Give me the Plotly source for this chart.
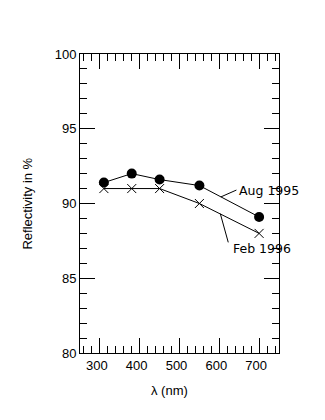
import plotly.graph_objects as go

wavelength = [310, 380, 450, 550, 700]
aug_1995 = [91.4, 92.0, 91.6, 91.2, 89.1]
feb_1996 = [91.0, 91.0, 91.0, 90.0, 88.0]

x_ticks = [300, 400, 500, 600, 700]
y_ticks = [80, 85, 90, 95, 100]

FONT = "Liberation Sans, Arial, Helvetica, sans-serif"
LABEL_FONT = "DejaVu Sans, Liberation Sans, sans-serif"

fig = go.Figure()
fig.add_trace(go.Scatter(
    x=wavelength, y=aug_1995, mode="lines+markers", name="Aug 1995",
    line=dict(color="black", width=1),
    marker=dict(symbol="circle", size=10, color="black"),
    cliponaxis=False,
))
fig.add_trace(go.Scatter(
    x=wavelength, y=feb_1996, mode="lines+markers", name="Feb 1996",
    line=dict(color="black", width=1),
    marker=dict(symbol="x-thin", size=9, line=dict(color="black", width=1)),
    cliponaxis=False,
))

# leader lines for labels
fig.add_shape(type="line", xref="x", yref="y", x0=604, y0=90.44, x1=643, y1=90.90,
              line=dict(color="black", width=1))
fig.add_shape(type="line", xref="x", yref="y", x0=602.5, y0=89.32, x1=622.5, y1=87.40,
              line=dict(color="black", width=1))

fig.add_annotation(x=645, y=90.84, xref="x", yref="y", text="Aug 1995", showarrow=False,
                   xanchor="left", yanchor="middle", font=dict(family=LABEL_FONT, size=12.5, color="black"))
fig.add_annotation(x=630, y=86.96, xref="x", yref="y", text="Feb 1996", showarrow=False,
                   xanchor="left", yanchor="middle", font=dict(family=LABEL_FONT, size=12.5, color="black"))

# axis titles
fig.add_annotation(x=0.452, y=-0.127, xref="paper", yref="paper", text="λ (nm)", showarrow=False,
                   xanchor="center", yanchor="middle", font=dict(family=FONT, size=13, color="black"))
fig.add_annotation(x=-0.266, y=0.5, xref="paper", yref="paper", text="Reflectivity in %", showarrow=False,
                   textangle=-90, xanchor="center", yanchor="middle",
                   font=dict(family=FONT, size=13, color="black"))

axis_common = dict(
    showgrid=False, zeroline=False, showline=True, linecolor="black", linewidth=1,
    mirror="ticks", ticks="inside", ticklen=15, tickwidth=1, tickcolor="black",
    tickfont=dict(family=FONT, size=13, color="black"),
)

fig.update_xaxes(
    range=[250, 750], tickvals=x_ticks, ticktext=[str(v) for v in x_ticks],
    ticklabelshift=-3,
    minor=dict(dtick=20, tick0=0, ticks="inside", ticklen=7, tickcolor="black", tickwidth=1, showgrid=False),
    **axis_common,
)
fig.update_yaxes(
    range=[80, 100], tickvals=y_ticks, ticktext=[str(v) for v in y_ticks],
    minor=dict(dtick=1, tick0=0, ticks="inside", ticklen=7, tickcolor="black", tickwidth=1, showgrid=False),
    **axis_common,
)

fig.update_layout(
    width=325, height=420,
    margin=dict(l=80, r=46, t=54, b=67, autoexpand=False),
    plot_bgcolor="white", paper_bgcolor="white",
    showlegend=False,
    font=dict(family=FONT, size=13, color="black"),
)

fig.write_html("out.html")
